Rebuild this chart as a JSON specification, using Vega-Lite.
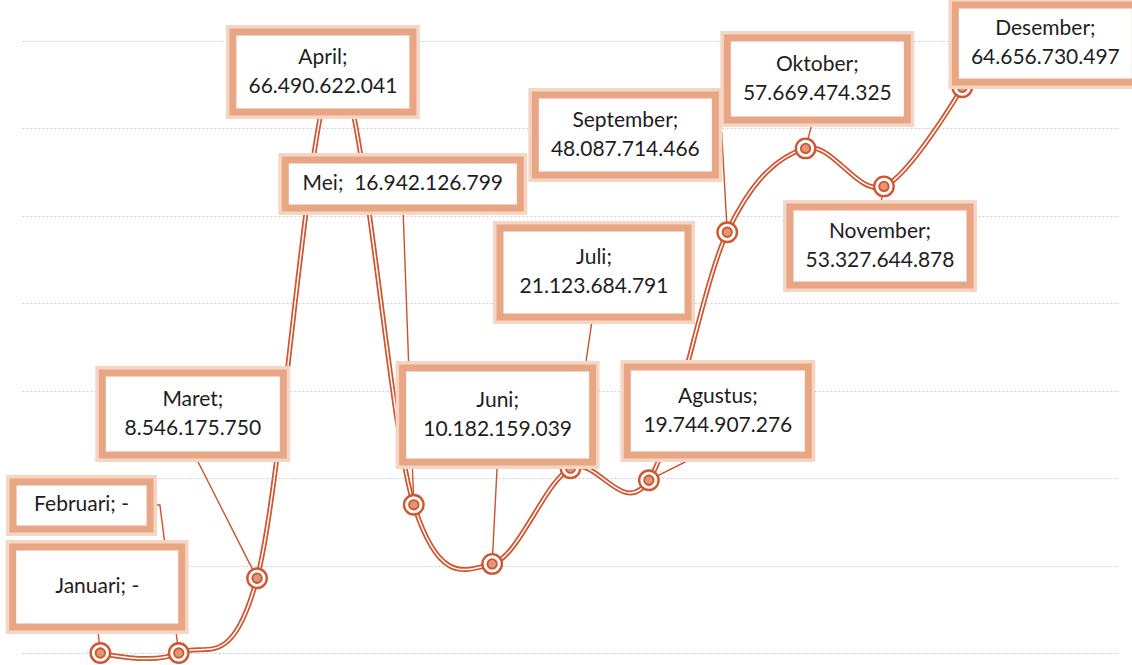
{
  "$schema": "https://vega.github.io/schema/vega-lite/v6.json",
  "width": 1097,
  "height": 665,
  "autosize": {"type": "none"},
  "padding": {"left": 22, "right": 13, "top": 0, "bottom": 0},
  "background": "white",
  "config": {
    "view": {"stroke": null},
    "axisY": {"grid": true, "labels": false, "ticks": false, "domain": false, "title": null, "gridColor": "#c9ced8", "gridDash": [2, 2], "gridWidth": 1, "zindex": 0}
  },
  "datasets": {
    "sales": [
      {"monthIndex": 1, "month": "Januari", "value": 0},
      {"monthIndex": 2, "month": "Februari", "value": 0},
      {"monthIndex": 3, "month": "Maret", "value": 8546175750},
      {"monthIndex": 4, "month": "April", "value": 66490622041},
      {"monthIndex": 5, "month": "Mei", "value": 16942126799},
      {"monthIndex": 6, "month": "Juni", "value": 10182159039},
      {"monthIndex": 7, "month": "Juli", "value": 21123684791},
      {"monthIndex": 8, "month": "Agustus", "value": 19744907276},
      {"monthIndex": 9, "month": "September", "value": 48087714466},
      {"monthIndex": 10, "month": "Oktober", "value": 57669474325},
      {"monthIndex": 11, "month": "November", "value": 53327644878},
      {"monthIndex": 12, "month": "Desember", "value": 64656730497}
    ],
    "labels": [
      {"month": "Januari", "anchorMonth": 0.96, "anchorValue": 7540000000},
      {"month": "Februari", "anchorMonth": 0.76, "anchorValue": 16860000000},
      {"month": "Maret", "anchorMonth": 2.18, "anchorValue": 27310000000},
      {"month": "April", "anchorMonth": 3.84, "anchorValue": 66400000000},
      {"month": "Mei", "anchorMonth": 4.86, "anchorValue": 53600000000},
      {"month": "Juni", "anchorMonth": 6.07, "anchorValue": 27200000000},
      {"month": "Juli", "anchorMonth": 7.3, "anchorValue": 43490000000},
      {"month": "Agustus", "anchorMonth": 8.88, "anchorValue": 27660000000},
      {"month": "September", "anchorMonth": 7.7, "anchorValue": 59200000000},
      {"month": "Oktober", "anchorMonth": 10.15, "anchorValue": 65600000000},
      {"month": "November", "anchorMonth": 10.95, "anchorValue": 46510000000},
      {"month": "Desember", "anchorMonth": 13.06, "anchorValue": 69660000000}
    ],
    "leaders": [
      {"leader": "Januari", "step": 1, "monthPos": 0.957, "valuePos": 3540000000},
      {"leader": "Januari", "step": 2, "monthPos": 1, "valuePos": 0},
      {"leader": "Februari", "step": 1, "monthPos": 1.57, "valuePos": 16910000000},
      {"leader": "Februari", "step": 2, "monthPos": 1.76, "valuePos": 16910000000},
      {"leader": "Februari", "step": 3, "monthPos": 2, "valuePos": 0},
      {"leader": "Maret", "step": 1, "monthPos": 2.17, "valuePos": 23200000000},
      {"leader": "Maret", "step": 2, "monthPos": 3, "valuePos": 8546175750},
      {"leader": "Mei", "step": 1, "monthPos": 4.86, "valuePos": 51430000000},
      {"leader": "Mei", "step": 2, "monthPos": 5, "valuePos": 16942126799},
      {"leader": "Juni", "step": 1, "monthPos": 6.07, "valuePos": 22400000000},
      {"leader": "Juni", "step": 2, "monthPos": 6, "valuePos": 10182159039},
      {"leader": "Juli", "step": 1, "monthPos": 7.29, "valuePos": 38970000000},
      {"leader": "Juli", "step": 2, "monthPos": 7, "valuePos": 21123684791},
      {"leader": "Agustus", "step": 1, "monthPos": 8.82, "valuePos": 23430000000},
      {"leader": "Agustus", "step": 2, "monthPos": 8, "valuePos": 19744907276},
      {"leader": "September", "step": 1, "monthPos": 8.78, "valuePos": 59430000000},
      {"leader": "September", "step": 2, "monthPos": 8.93, "valuePos": 59430000000},
      {"leader": "September", "step": 3, "monthPos": 9, "valuePos": 48087714466},
      {"leader": "Oktober", "step": 1, "monthPos": 10.11, "valuePos": 61490000000},
      {"leader": "Oktober", "step": 2, "monthPos": 10, "valuePos": 57669474325},
      {"leader": "November", "step": 1, "monthPos": 10.94, "valuePos": 50400000000},
      {"leader": "November", "step": 2, "monthPos": 11, "valuePos": 53327644878}
    ]
  },
  "layer": [
    {
      "data": {"name": "leaders"},
      "mark": {"type": "line", "color": "#c9532b", "strokeWidth": 1.4},
      "encoding": {
        "x": {"field": "monthPos", "type": "quantitative", "scale": {"domain": [0, 14], "nice": false, "zero": false}, "axis": null},
        "y": {"field": "valuePos", "type": "quantitative", "scale": {"domain": [-1370000000, 74630000000], "nice": false, "zero": false},
              "axis": {"values": [0, 10000000000, 20000000000, 30000000000, 40000000000, 50000000000, 60000000000, 70000000000]}},
        "detail": {"field": "leader"},
        "order": {"field": "step", "type": "quantitative"}
      }
    },
    {
      "data": {"name": "sales"},
      "mark": {"type": "line", "interpolate": "cardinal", "color": "#cf5630", "strokeWidth": 5},
      "encoding": {
        "x": {"field": "monthIndex", "type": "quantitative", "axis": null},
        "y": {"field": "value", "type": "quantitative", "axis": {"values": [0, 10000000000, 20000000000, 30000000000, 40000000000, 50000000000, 60000000000, 70000000000]}}
      }
    },
    {
      "data": {"name": "sales"},
      "mark": {"type": "line", "interpolate": "cardinal", "color": "#ffffff", "strokeWidth": 1.5},
      "encoding": {
        "x": {"field": "monthIndex", "type": "quantitative", "axis": null},
        "y": {"field": "value", "type": "quantitative", "axis": {"values": [0, 10000000000, 20000000000, 30000000000, 40000000000, 50000000000, 60000000000, 70000000000]}}
      }
    },
    {
      "data": {"name": "sales"},
      "mark": {"type": "point", "shape": "circle", "size": 380, "filled": true, "fill": "#ffffff", "stroke": "#cf5630", "strokeWidth": 2.4, "opacity": 1},
      "encoding": {
        "x": {"field": "monthIndex", "type": "quantitative", "axis": null},
        "y": {"field": "value", "type": "quantitative", "axis": {"values": [0, 10000000000, 20000000000, 30000000000, 40000000000, 50000000000, 60000000000, 70000000000]}}
      }
    },
    {
      "data": {"name": "sales"},
      "mark": {"type": "point", "shape": "circle", "size": 90, "filled": true, "fill": "#e39672", "stroke": "#cf5630", "strokeWidth": 1.8, "opacity": 1},
      "encoding": {
        "x": {"field": "monthIndex", "type": "quantitative", "axis": null},
        "y": {"field": "value", "type": "quantitative", "axis": {"values": [0, 10000000000, 20000000000, 30000000000, 40000000000, 50000000000, 60000000000, 70000000000]}}
      }
    },
    {
      "data": {"name": "labels"},
      "mark": {"type": "point", "size": 4, "filled": true, "fill": "#ffffff", "stroke": "#f5d6c4", "strokeWidth": 14, "opacity": 1},
      "encoding": {
        "x": {"field": "anchorMonth", "type": "quantitative", "axis": null},
        "y": {"field": "anchorValue", "type": "quantitative", "axis": {"values": [0, 10000000000, 20000000000, 30000000000, 40000000000, 50000000000, 60000000000, 70000000000]}},
        "shape": {"field": "month", "type": "nominal", "legend": null,
          "scale": {"domain": ["Januari", "Februari", "Maret", "April", "Mei", "Juni", "Juli", "Agustus", "September", "Oktober", "November", "Desember"],
            "range": ["M-84.5,-40H84.5V40H-84.5Z", "M-68.5,-23.5H68.5V23.5H-68.5Z", "M-90.5,-41H90.5V41H-90.5Z", "M-90,-40H90V40H-90Z", "M-117.5,-24H117.5V24H-117.5Z", "M-95,-47H95V47H-95Z", "M-94,-44.5H94V44.5H-94Z", "M-90.5,-44H90.5V44H-90.5Z", "M-90,-40H90V40H-90Z", "M-90,-41H90V41H-90Z", "M-90,-39H90V39H-90Z", "M-90,-38.5H90V38.5H-90Z"]}}
      }
    },
    {
      "data": {"name": "labels"},
      "mark": {"type": "point", "size": 4, "filled": true, "fill": "#ffffff", "stroke": "#e8a684", "strokeWidth": 7, "opacity": 1},
      "encoding": {
        "x": {"field": "anchorMonth", "type": "quantitative", "axis": null},
        "y": {"field": "anchorValue", "type": "quantitative", "axis": {"values": [0, 10000000000, 20000000000, 30000000000, 40000000000, 50000000000, 60000000000, 70000000000]}},
        "shape": {"field": "month", "type": "nominal", "legend": null}
      }
    },
    {
      "data": {"name": "labels"},
      "transform": [
        {"lookup": "month", "from": {"data": {"name": "sales"}, "key": "month", "fields": ["value"]}},
        {"filter": "datum.value != 0 && datum.month != 'Mei'"},
        {"calculate": "[datum.month + ';', replace(format(datum.value, ','), regexp(',', 'g'), '.')]", "as": "labelLines"}
      ],
      "mark": {"type": "text", "font": "Lato", "fontSize": 21, "lineHeight": 29, "dy": -14, "color": "#1e1e1e", "align": "center", "baseline": "middle"},
      "encoding": {
        "x": {"field": "anchorMonth", "type": "quantitative", "axis": null},
        "y": {"field": "anchorValue", "type": "quantitative", "axis": {"values": [0, 10000000000, 20000000000, 30000000000, 40000000000, 50000000000, 60000000000, 70000000000]}},
        "text": {"field": "labelLines"}
      }
    },
    {
      "data": {"name": "labels"},
      "transform": [
        {"lookup": "month", "from": {"data": {"name": "sales"}, "key": "month", "fields": ["value"]}},
        {"filter": "datum.value == 0 || datum.month == 'Mei'"},
        {"calculate": "datum.value == 0 ? datum.month + '; -' : datum.month + ';\u00a0 ' + replace(format(datum.value, ','), regexp(',', 'g'), '.')", "as": "labelText"}
      ],
      "mark": {"type": "text", "font": "Lato", "fontSize": 21, "color": "#1e1e1e", "align": "center", "baseline": "middle"},
      "encoding": {
        "x": {"field": "anchorMonth", "type": "quantitative", "axis": null},
        "y": {"field": "anchorValue", "type": "quantitative", "axis": {"values": [0, 10000000000, 20000000000, 30000000000, 40000000000, 50000000000, 60000000000, 70000000000]}},
        "text": {"field": "labelText"}
      }
    }
  ]
}
